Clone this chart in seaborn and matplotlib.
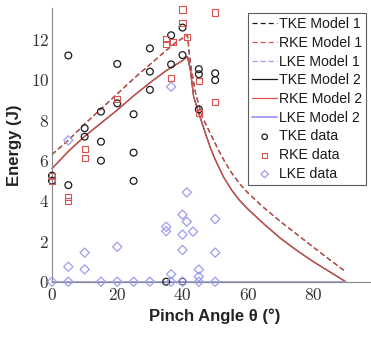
import matplotlib
matplotlib.use("Agg")
import matplotlib.pyplot as plt
from matplotlib.ticker import FuncFormatter
import seaborn as sns
import numpy as np

# ---- Model curves ----
m1_angle = [0, 5, 10, 15, 20, 25, 30, 35, 38, 41.5, 42.4, 44, 46, 49, 51, 53, 55, 57.5, 60, 65, 70, 75, 80, 85, 90]
m1_energy = [6.3, 7.0, 7.8, 8.55, 9.3, 10.05, 10.75, 11.45, 11.85, 12.2, 10.8, 9.33, 8.17, 7.18, 6.52,
             5.92, 5.4, 4.85, 4.4, 3.65, 2.98, 2.35, 1.72, 1.1, 0.5]
m2_angle = [0, 5, 10, 15, 20, 25, 30, 35, 40, 41.5, 42.4, 43.4, 45, 47, 48.6, 50, 52.5, 55, 57.5, 60,
            65, 70, 75, 80, 85, 90]
m2_energy = [5.6, 6.45, 7.2, 7.85, 8.5, 9.2, 9.85, 10.45, 10.95, 11.15, 10.48, 9.16, 8.34, 7.35, 6.6,
             6.05, 5.2, 4.55, 4.02, 3.6, 2.85, 2.15, 1.55, 1.0, 0.5, 0.0]
lke_model_angle = [0, 90]
lke_model_energy = [0, 0]

# ---- Measured data ----
tke_x = [0, 0, 5, 5, 10, 10, 15, 15, 15, 20, 20, 25, 25, 25, 30, 30, 30, 35,
         36.5, 36.5, 40, 40, 40, 45, 45, 45, 50, 50]
tke_y = [5.25, 5.0, 11.2, 4.78, 7.6, 7.18, 8.42, 6.93, 5.99, 10.78, 8.83, 8.29, 6.39, 4.99,
         11.55, 10.4, 9.5, 0.0, 12.2, 10.76, 12.58, 11.22, 0.0, 10.52, 10.27, 8.53, 10.32, 9.98]
rke_x = [0, 0, 5, 5, 10, 10, 20, 35, 35, 37, 36.5, 40, 40, 41.3, 45, 45, 50, 50]
rke_y = [5.25, 5.0, 4.2, 3.98, 6.57, 6.14, 9.04, 12.0, 11.75, 11.85, 10.07, 13.48, 12.82, 12.13,
         9.92, 8.35, 13.33, 8.91]
lke_x = [0, 5, 15, 20, 25, 30, 36.5, 40, 45, 50,
         5, 5, 10, 10, 20, 35, 35, 36.5, 36.5, 40, 40, 40, 41.3, 41.3, 43.2, 45, 45, 50, 50]
lke_y = [0, 0, 0, 0, 0, 0, 0, 0, 0, 0,
         0.74, 7.0, 0.61, 1.44, 1.73, 2.72, 2.5, 0.37, 9.65, 3.32, 2.33, 1.57, 2.97, 4.42,
         2.48, 0.6, 0.25, 3.1, 1.44]

x_ticks = [0, 20, 40, 60, 80]
y_ticks = [0, 2, 4, 6, 8, 10, 12]

sns.set_style("white")
plt.rcParams["font.family"] = ["Liberation Sans", "DejaVu Sans"]
plt.rcParams["mathtext.fontset"] = "cm"

c_tke = "#1a1a1a"
c_rke = "#d9534f"
c_lke = "#9d9def"

fig = plt.figure(figsize=(3.71, 3.37), dpi=100)
ax = fig.add_axes([0.1402, 0.1641, 0.8795, 0.8122])

lw = 0.9
dash = (4, 2.5)
sns.lineplot(x=m1_angle, y=m1_energy, ax=ax, color=c_tke, lw=lw, label="TKE Model 1",
             sort=False, estimator=None).lines[-1].set_dashes(dash)
sns.lineplot(x=m1_angle, y=m1_energy, ax=ax, color=c_rke, lw=lw, label="RKE Model 1",
             sort=False, estimator=None).lines[-1].set_dashes(dash)
sns.lineplot(x=lke_model_angle, y=lke_model_energy, ax=ax, color=c_lke, lw=lw, label="LKE Model 1",
             sort=False, estimator=None).lines[-1].set_dashes(dash)
sns.lineplot(x=m2_angle, y=m2_energy, ax=ax, color=c_tke, lw=lw, label="TKE Model 2",
             sort=False, estimator=None)
sns.lineplot(x=m2_angle, y=m2_energy, ax=ax, color=c_rke, lw=lw, label="RKE Model 2",
             sort=False, estimator=None)
sns.lineplot(x=lke_model_angle, y=lke_model_energy, ax=ax, color=c_lke, lw=1.3, label="LKE Model 2",
             sort=False, estimator=None)
for l in ax.lines:
    l.set_clip_on(False)

sns.scatterplot(x=tke_x, y=tke_y, ax=ax, marker="o", s=24, facecolor="none", edgecolor=c_tke,
                linewidth=0.9, label="TKE data", clip_on=False, zorder=3)
sns.scatterplot(x=rke_x, y=rke_y, ax=ax, marker="s", s=20, facecolor="none", edgecolor=c_rke,
                linewidth=0.8, label="RKE data", clip_on=False, zorder=4)
sns.scatterplot(x=lke_x, y=lke_y, ax=ax, marker="D", s=22, facecolor="none", edgecolor=c_lke,
                linewidth=0.9, label="LKE data", clip_on=False, zorder=3)

ax.set_xlim(0, 100)
ax.set_ylim(0, 13.55)
ax.set_xticks(x_ticks)
ax.set_yticks(y_ticks)
fmt = FuncFormatter(lambda v, p: f"${v:g}$")
ax.xaxis.set_major_formatter(fmt)
ax.yaxis.set_major_formatter(fmt)
ax.tick_params(axis="both", direction="in", length=3, width=0.6, color="#888888",
               labelsize=12.5, labelcolor="#333333")
ax.tick_params(axis="y", pad=2)
ax.tick_params(axis="x", pad=4)
for s in ["top", "right"]:
    ax.spines[s].set_visible(False)
for s in ["left", "bottom"]:
    ax.spines[s].set_color("#8a8a8a")
    ax.spines[s].set_linewidth(0.8)

ax.set_xlabel("Pinch Angle θ (°)", fontsize=12, fontweight="bold", color="#222222", labelpad=4)
ax.set_ylabel("Energy (J)", fontsize=12, fontweight="bold", color="#222222", labelpad=6)

leg = ax.legend(loc="upper left", bbox_to_anchor=(0.6016, 0.98), borderaxespad=0,
                fontsize=10.2, frameon=True, fancybox=False, edgecolor="#333333",
                handlelength=1.75, handletextpad=0.12, borderpad=0.28, labelspacing=0.33,
                markerscale=0.8)
leg.get_frame().set_linewidth(0.8)
for t in leg.get_texts():
    t.set_color("#1a1a1a")

fig.savefig("out.png", dpi=100)
